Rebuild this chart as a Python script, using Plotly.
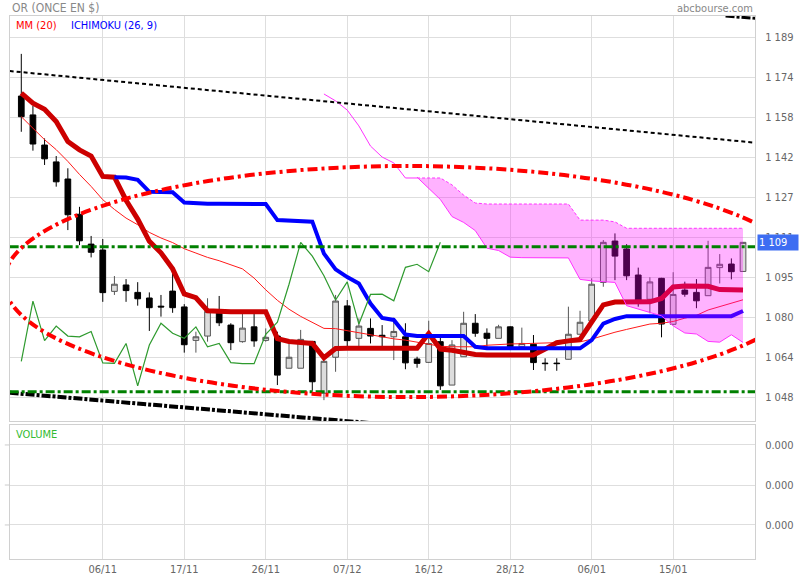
import plotly.graph_objects as go

# ---------------- data ----------------
idx = list(range(63))

opens = [1165.5, 1158.1, 1146.3, 1139.7, 1133.0, 1119.2, 1107.5, 1105.2, 1089.0, 1091.5,
         1088.6, 1086.4, 1083.2, 1089.1, 1082.9, 1069.8, 1071.5, 1081.7, 1075.8, 1069.3,
         1075.1, 1069.8, 1071.5, 1058.9, 1058.9, 1069.4, 1049.1, 1063.2, 1083.3, 1070.6,
         1074.5, 1071.8, 1071.2, 1071.2, 1062.5, 1061.2, 1069.3, 1052.3, 1063.4, 1076.5,
         1072.6, 1070.6, 1075.1, 1067.3, 1068.3, 1060.9, 1060.9, 1062.4, 1072.2, 1077.4,
         1092.5, 1108.7, 1105.6, 1095.4, 1085.9, 1094.1, 1076.1, 1089.5, 1088.6, 1087.3,
         1098.3, 1099.7, 1096.8]
highs = [1182.0, 1161.6, 1148.9, 1142.0, 1137.2, 1122.1, 1110.7, 1109.5, 1095.0, 1093.8,
         1092.6, 1088.6, 1087.6, 1096.1, 1084.0, 1073.2, 1086.3, 1087.2, 1076.5, 1080.4,
         1080.4, 1074.5, 1073.2, 1068.6, 1073.9, 1069.6, 1063.4, 1087.6, 1085.6, 1078.4,
         1078.4, 1075.8, 1078.7, 1076.5, 1063.4, 1077.5, 1071.2, 1069.9, 1081.0, 1080.1,
         1074.5, 1075.9, 1075.3, 1074.8, 1071.9, 1062.8, 1062.8, 1083.0, 1081.4, 1094.1,
         1109.1, 1111.7, 1107.5, 1098.3, 1094.5, 1094.3, 1096.5, 1092.8, 1093.8, 1108.8,
         1103.6, 1101.9, 1108.3]
lows = [1151.5, 1144.1, 1138.5, 1130.0, 1113.0, 1107.1, 1102.3, 1084.9, 1087.6, 1084.9,
        1083.4, 1073.5, 1079.1, 1080.6, 1065.0, 1065.0, 1069.3, 1075.4, 1066.0, 1068.9,
        1067.3, 1069.3, 1052.3, 1058.9, 1058.9, 1050.1, 1046.4, 1057.5, 1067.1, 1067.1,
        1068.6, 1067.3, 1062.1, 1058.5, 1059.1, 1061.0, 1050.4, 1052.3, 1063.4, 1071.2,
        1067.1, 1070.6, 1066.0, 1067.2, 1058.2, 1057.9, 1057.9, 1062.3, 1072.2, 1077.4,
        1090.8, 1093.4, 1093.4, 1083.0, 1080.4, 1071.0, 1076.0, 1086.9, 1082.4, 1087.3,
        1092.1, 1093.7, 1096.8]
closes = [1157.4, 1146.7, 1140.9, 1131.9, 1119.0, 1108.8, 1104.3, 1088.5, 1091.8, 1089.3,
          1086.1, 1082.6, 1082.9, 1082.6, 1068.1, 1071.2, 1081.2, 1076.7, 1068.9, 1074.6,
          1069.6, 1071.0, 1056.2, 1063.2, 1070.2, 1053.6, 1061.6, 1085.2, 1069.7, 1075.4,
          1071.5, 1071.2, 1073.3, 1061.0, 1060.8, 1068.6, 1052.0, 1068.0, 1076.5, 1072.6,
          1070.6, 1075.1, 1067.3, 1068.6, 1061.1, 1060.7, 1060.7, 1072.2, 1076.9, 1091.8,
          1108.2, 1102.8, 1095.1, 1085.6, 1092.7, 1076.2, 1087.8, 1087.9, 1085.3, 1098.4,
          1099.6, 1096.7, 1108.2]

ma20 = [1157.4, 1153.0, 1148.4, 1144.5, 1139.9, 1134.8, 1130.1, 1124.9, 1121.1, 1117.7,
        1115.1, 1112.1, 1109.9, 1108.1, 1105.7, 1104.0, 1102.3, 1101.0, 1099.5, 1097.8,
        1094.2, 1089.6, 1085.5, 1082.0, 1079.2, 1076.9, 1074.5, 1074.4, 1073.6, 1072.6,
        1071.8, 1071.1, 1070.4, 1069.9, 1069.1, 1068.1, 1067.5, 1067.3, 1067.3, 1067.3,
        1067.9, 1068.2, 1068.4, 1068.5, 1068.6, 1068.8, 1068.9, 1069.1, 1069.2, 1070.3,
        1071.7, 1073.0, 1074.1, 1075.1, 1076.2, 1076.5, 1077.2, 1078.5, 1079.6, 1081.7,
        1083.1, 1084.6, 1085.7]

tenkan = [1166.6, 1162.7, 1160.3, 1155.5, 1147.7, 1144.4, 1142.0, 1134.0, 1133.7, 1124.7,
          1117.3, 1108.6, 1104.1, 1097.8, 1088.0, 1086.5, 1081.4, 1081.0, 1081.0, 1081.0,
          1081.0, 1081.0, 1070.5, 1069.4, 1069.0, 1068.6, 1063.0, 1066.6, 1066.7, 1066.7,
          1066.7, 1066.7, 1066.7, 1066.7, 1066.7, 1072.5, 1066.4, 1065.9, 1065.2, 1064.3,
          1064.1, 1064.1, 1064.1, 1064.1, 1064.1, 1066.4, 1068.9, 1069.6, 1070.2, 1077.0,
          1083.7, 1084.8, 1084.9, 1084.9, 1084.9, 1086.2, 1090.7, 1091.1, 1091.1, 1091.0,
          1089.7, 1089.5, 1089.5]

kijun_start = 8
kijun = [1133.7, 1133.6, 1132.7, 1128.0, 1127.9, 1127.8, 1123.8, 1123.4, 1123.3, 1123.3,
         1123.2, 1123.2, 1123.2, 1123.2, 1116.9, 1116.7, 1116.5, 1116.3, 1103.8, 1097.6,
         1094.6, 1092.1, 1084.2, 1078.6, 1077.8, 1072.1, 1071.5, 1071.5, 1071.5, 1071.5,
         1071.5, 1067.3, 1066.7, 1066.7, 1066.7, 1066.7, 1066.7, 1066.7, 1066.7, 1066.7,
         1066.7, 1069.9, 1076.4, 1078.2, 1079.3, 1079.3, 1079.3, 1079.3, 1079.3, 1079.3,
         1079.3, 1079.3, 1079.3, 1079.3, 1081.3]

chikou_shift = 26

span_b_start = 26
span_b = [1166.3, 1163.6, 1160.0, 1153.8, 1145.9, 1141.6, 1139.3, 1133.4, 1133.4, 1133.4,
          1133.4, 1130.7, 1126.7, 1123.6, 1123.2, 1123.2, 1123.2, 1123.2, 1123.2, 1123.2,
          1123.2, 1123.2, 1116.9, 1116.9, 1116.9, 1116.2, 1113.7, 1113.7, 1113.7, 1113.7,
          1113.7, 1113.7, 1113.7, 1113.7, 1113.7, 1113.7, 1113.7]

span_a_start = 34
span_a = [1133.7, 1129.2, 1125.0, 1118.3, 1116.0, 1112.8, 1105.9, 1105.0, 1102.4, 1102.2,
          1102.2, 1102.1, 1102.1, 1102.1, 1093.7, 1093.1, 1092.8, 1092.5, 1083.4, 1082.1,
          1080.7, 1079.4, 1075.5, 1072.7, 1072.3, 1069.4, 1069.1, 1072.0, 1069.0]

# hand-drawn chart objects (anchor points)
trend_top_x = [-1, 64]
trend_top_y = [1175.3, 1146.8]
trend_low_x = [-1, 30]
trend_low_y = [1049.3, 1037.4]
trend_corner_x = [60.5, 64]
trend_corner_y = [1196.8, 1195.6]
hline_levels = [1106.5, 1049.7]
ellipse_x = [-1.49, 67.79]
ellipse_y = [1047.6, 1138.1]

price_ticks = [1047.5, 1063.17, 1078.83, 1094.5, 1110.17, 1125.83, 1141.5, 1157.17, 1172.83, 1188.5]
price_labels = ["1 048", "1 064", "1 080", "1 095", "1 111", "1 127", "1 142", "1 158", "1 174", "1 189"]
date_ticks = [7, 14, 21, 28, 35, 42, 49, 56]
date_labels = ["06/11", "17/11", "26/11", "07/12", "16/12", "28/12", "06/01", "15/01"]
vol_ticks = [0.254, 0.552, 0.851]
vol_labels = ["0.000", "0.000", "0.000"]
last_label = "1 109"

# ---------------- figure ----------------
FONT = "Liberation Sans Narrow, DejaVu Sans Condensed, Liberation Sans, Arial, sans-serif"
GRID = "#dedede"
MAG = "#ff33ff"

fig = go.Figure()

fig.add_trace(go.Candlestick(
    x=idx, open=opens, high=highs, low=lows, close=closes,
    increasing=dict(fillcolor="#dddddd", line=dict(color="#555555", width=1)),
    decreasing=dict(fillcolor="#000000", line=dict(color="#000000", width=1)),
    whiskerwidth=0, showlegend=False, hoverinfo="skip"))

fig.add_trace(go.Scatter(x=idx, y=ma20, mode="lines",
                         line=dict(color="#ff1a1a", width=1), hoverinfo="skip"))
fig.add_trace(go.Scatter(x=idx, y=tenkan, mode="lines",
                         line=dict(color="#cc0000", width=5), hoverinfo="skip"))
fig.add_trace(go.Scatter(x=idx[kijun_start:], y=kijun, mode="lines",
                         line=dict(color="#0000ff", width=4), hoverinfo="skip"))
fig.add_trace(go.Scatter(x=idx[:len(idx) - chikou_shift], y=closes[chikou_shift:], mode="lines",
                         line=dict(color="#2e9a2e", width=1.2), hoverinfo="skip"))

# span B before the cloud
nb = span_a_start - span_b_start
fig.add_trace(go.Scatter(x=idx[span_b_start:span_a_start + 1], y=span_b[:nb + 1], mode="lines",
                         line=dict(color=MAG, width=1), hoverinfo="skip"))
# cloud
cx = idx[span_a_start:]
fig.add_trace(go.Scatter(x=cx + cx[::-1], y=span_b[nb:] + span_a[::-1], mode="lines",
                         fill="toself", fillcolor="rgba(255,0,255,0.30)",
                         line=dict(width=0), hoverinfo="skip"))
fig.add_trace(go.Scatter(x=cx, y=span_a, mode="lines",
                         line=dict(color=MAG, width=1), hoverinfo="skip"))
fig.add_trace(go.Scatter(x=cx, y=span_b[nb:], mode="lines",
                         line=dict(color=MAG, width=1, dash="3px,2px"), hoverinfo="skip"))

# drawn objects
fig.add_trace(go.Scatter(x=trend_top_x, y=trend_top_y, mode="lines",
                         line=dict(color="#000000", width=2, dash="4px,3px"), hoverinfo="skip"))
fig.add_trace(go.Scatter(x=trend_low_x, y=trend_low_y, mode="lines",
                         line=dict(color="#000000", width=4, dash="9px,2px,3px,2px"), hoverinfo="skip"))
fig.add_trace(go.Scatter(x=trend_corner_x, y=trend_corner_y, mode="lines",
                         line=dict(color="#000000", width=3, dash="9px,2px,3px,2px"), hoverinfo="skip"))
for lvl in hline_levels:
    fig.add_trace(go.Scatter(x=[trend_top_x[0], trend_top_x[1]], y=[lvl, lvl], mode="lines",
                             line=dict(color="#008000", width=3, dash="9px,3px,3px,3px"),
                             hoverinfo="skip"))

# volume panel placeholder
fig.add_trace(go.Scatter(x=[idx[0]], y=[0.5], xaxis="x2", yaxis="y2", mode="markers",
                         marker=dict(opacity=0), hoverinfo="skip"))

fig.add_shape(type="circle", xref="x", yref="y",
              x0=ellipse_x[0], x1=ellipse_x[1], y0=ellipse_y[0], y1=ellipse_y[1],
              line=dict(color="#ff0000", width=4, dash="10px,4px,3px,4px"), layer="above")

for v in vol_ticks:
    fig.add_shape(type="line", xref="paper", yref="y2", x0=-0.007, x1=0, y0=v, y1=v,
                  line=dict(color="#cccccc", width=1))

xr = [-0.97, 63.03]
axis_common = dict(showgrid=True, gridcolor=GRID, gridwidth=1, showline=True, mirror=True,
                   linecolor="#d0d0d0", linewidth=1, zeroline=False)

fig.update_layout(
    width=800, height=580,
    margin=dict(l=10, r=45, t=16, b=21, autoexpand=False),
    paper_bgcolor="white", plot_bgcolor="white",
    showlegend=False,
    font=dict(family=FONT, size=11, color="#666666"),
    xaxis=dict(domain=[0, 1], anchor="y", range=xr, tickvals=date_ticks,
               showticklabels=False, ticks="", rangeslider=dict(visible=False), **axis_common),
    yaxis=dict(domain=[0.2541, 1], anchor="x", side="right", range=[1038.22, 1196.84],
               tickvals=price_ticks, ticktext=price_labels, ticks="", ticklabelstandoff=7,
               tickfont=dict(size=11, color="#666666"), **axis_common),
    xaxis2=dict(domain=[0, 1], anchor="y2", range=xr, tickvals=date_ticks, ticktext=date_labels,
                ticks="", tickfont=dict(size=11, color="#666666"), **axis_common),
    yaxis2=dict(domain=[0, 0.2468], anchor="x2", side="right", range=[0, 1],
                tickvals=vol_ticks, ticktext=vol_labels, ticks="", ticklabelstandoff=7,
                tickfont=dict(size=11, color="#666666"), **axis_common),
)

ann = [
    dict(text="OR (ONCE EN $)", x=0, y=1.0147, xanchor="left", yanchor="middle",
         font=dict(size=12, color="#888888")),
    dict(text="abcbourse.com", x=1, y=1.0147, xanchor="right", yanchor="middle",
         font=dict(size=11, color="#888888")),
    dict(text="MM (20)", x=0.0054, y=0.9816, xanchor="left", yanchor="middle",
         font=dict(size=11, color="#ff0000")),
    dict(text="ICHIMOKU (26, 9)", x=0.0792, y=0.9816, xanchor="left", yanchor="middle",
         font=dict(size=11, color="#0000ff")),
    dict(text="VOLUME", x=0.0054, y=0.2302, xanchor="left", yanchor="middle",
         font=dict(size=11, color="#33bb33")),
]
for a in ann:
    fig.add_annotation(xref="paper", yref="paper", showarrow=False, **a)

fig.add_annotation(xref="paper", yref="y", x=1, xshift=2, y=closes[-1], text=last_label,
                   showarrow=False, xanchor="left", yanchor="middle", width=38, align="left",
                   bgcolor="#3d6df2", borderpad=1, font=dict(size=11, color="white"))

fig.write_html(
    "out.html",
    config={"displayModeBar": False},
    post_script="document.body.style.margin='0';document.body.style.overflow='hidden';"
                "document.documentElement.style.overflow='hidden';",
)
